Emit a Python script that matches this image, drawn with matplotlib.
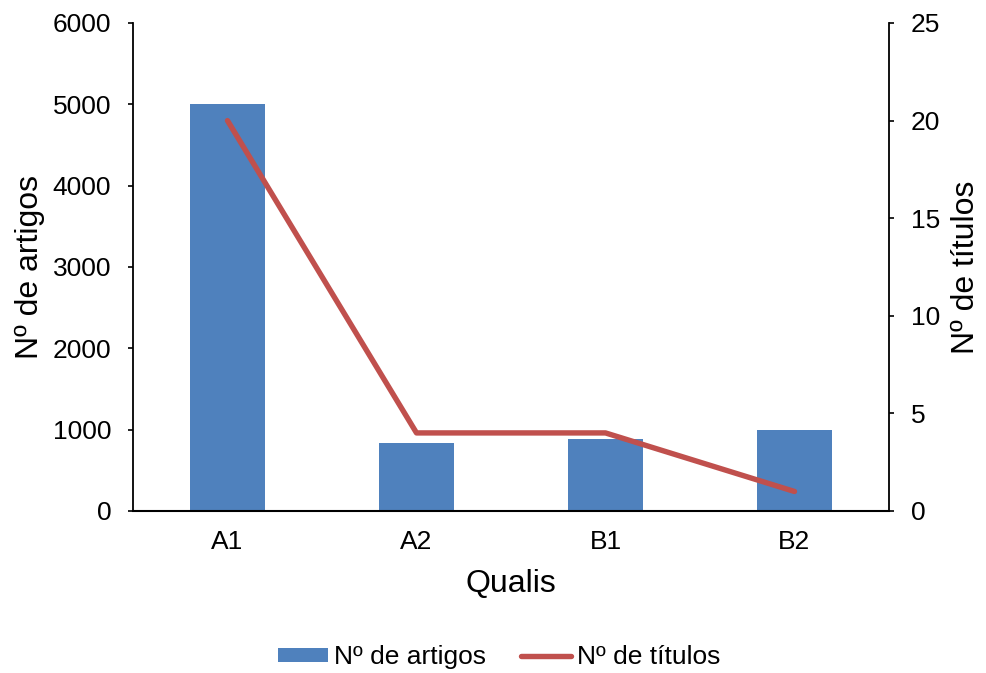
import matplotlib
matplotlib.use("Agg")
import matplotlib.pyplot as plt
import numpy as np

categories = ["A1", "A2", "B1", "B2"]
artigos = [5000, 830, 880, 990]
titulos = [20, 4, 4, 1]

plt.rcParams['font.family'] = ['Liberation Sans', 'DejaVu Sans']

W, H = 986, 673
L, R, T, B = 133, 889, 23, 511
fig = plt.figure(figsize=(W/100, H/100), dpi=100)
ax = fig.add_axes([L/W, 1-B/H, (R-L)/W, (B-T)/H])
x = np.arange(len(categories))
bars = ax.bar(x, artigos, width=0.4, color="#4F81BD", label="Nº de artigos")
ax.set_xlim(-0.5, 3.5)
ax.set_ylim(0, 6000)
ax.set_yticks(range(0, 6001, 1000))
ax.set_xticks(x)
ax.set_xticklabels(categories)
ax.tick_params(axis='y', length=3.6, width=1.2, labelsize=19, pad=12)
ax.tick_params(axis='x', length=0, labelsize=19, pad=14)
ax.set_ylabel("Nº de artigos", fontsize=23)
ax.set_xlabel("Qualis", fontsize=23)
ax.yaxis.set_label_coords((30-L)/(R-L), 0.5)
ax.yaxis.label.set_va('center')
ax.xaxis.set_label_coords(0.5, (B-584)/(B-T))
ax.xaxis.label.set_va('center')
ax.spines['top'].set_visible(False)
ax.spines['right'].set_visible(False)
ax.spines['left'].set_color('black')
ax.spines['bottom'].set_color('black')
ax.spines['left'].set_linewidth(1.3)
ax.spines['bottom'].set_linewidth(1.5)

ax2 = ax.twinx()
line, = ax2.plot(x, titulos, color="#C0504D", linewidth=3.9, solid_capstyle='round', label="Nº de títulos")
ax2.set_ylim(0, 25)
ax2.set_yticks(range(0, 26, 5))
ax2.tick_params(axis='y', length=3.6, width=1.2, labelsize=19, pad=12)
ax2.set_ylabel("Nº de títulos", fontsize=23)
ax2.yaxis.set_label_coords((966-L)/(R-L), 0.5)
ax2.yaxis.label.set_va('center')
ax2.spines['top'].set_visible(False)
ax2.spines['left'].set_visible(False)
ax2.spines['bottom'].set_visible(False)
ax2.spines['right'].set_color('black')
ax2.spines['right'].set_linewidth(1.3)

fig.legend([bars, line], ["Nº de artigos", "Nº de títulos"], loc='center',
           bbox_to_anchor=(0.5 + 6/W, 1-657/H), ncol=2, frameon=False, fontsize=19,
           handlelength=1.9, handleheight=0.45, columnspacing=1.35, handletextpad=0.2)

fig.savefig("out.png", dpi=100)
